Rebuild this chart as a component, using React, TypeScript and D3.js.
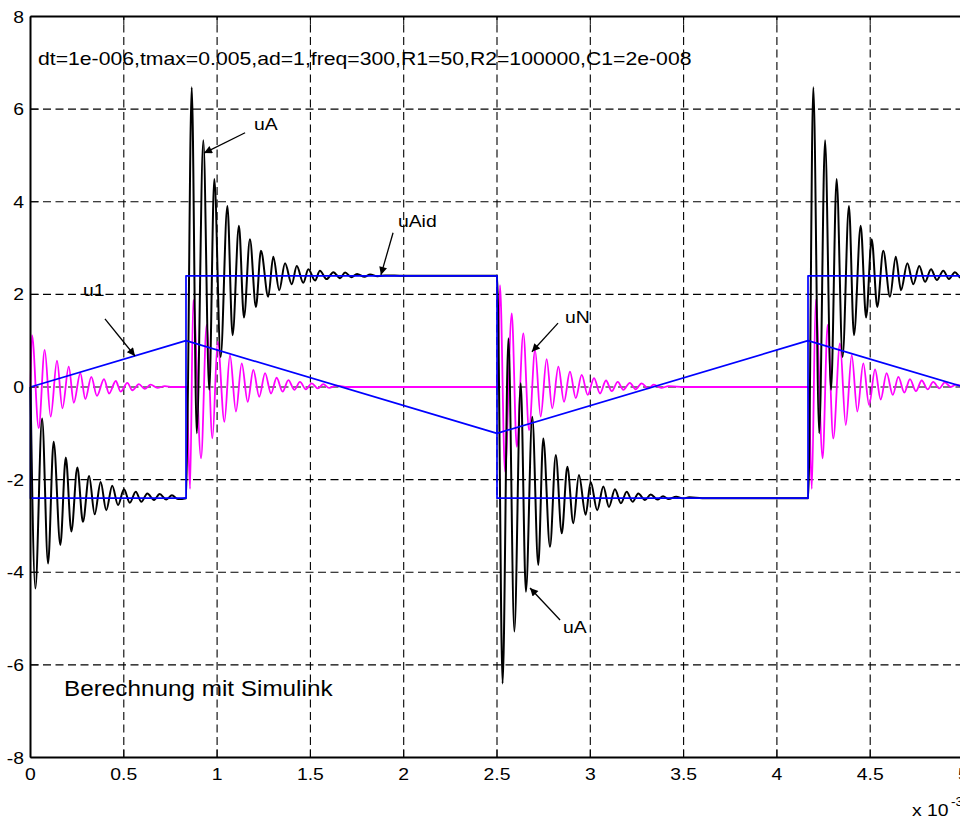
import React from 'react';
import * as d3 from 'd3';

type Pt = [number, number];

// time in ms (axis shows x 10^-3 s), voltage in V
const xTicks = [0, 0.5, 1, 1.5, 2, 2.5, 3, 3.5, 4, 4.5, 5];
const yTicks = [-8, -6, -4, -2, 0, 2, 4, 6, 8];

const uAid: Pt[] = [[0, 0], [0, -2.4], [0.8333, 2.4], [2.5, -2.4], [4.1667, 2.4], [5, 2.4]];
const u1: Pt[] = [[0, 0], [0.8333, 1], [2.5, -1], [4.1667, 1], [5, 0]];

// uA, peaks
const uA0: Pt[] = [[0, 0], [0.026, -4.35], [0.062, -0.68], [0.094, -3.81], [0.124, -1.18], [0.16, -3.41], [0.189, -1.52], [0.219, -3.12], [0.251, -1.74], [0.281, -2.91], [0.314, -1.92], [0.344, -2.75], [0.376, -2.05], [0.406, -2.66], [0.438, -2.13], [0.469, -2.55], [0.501, -2.21], [0.532, -2.5], [0.564, -2.26], [0.594, -2.48], [0.626, -2.3], [0.662, -2.44], [0.692, -2.31], [0.728, -2.43], [0.758, -2.34], [0.79, -2.42]];
const uA1: Pt[] = [[0.834, -2.4], [0.864, 6.47], [0.891, -1.0], [0.926, 5.33], [0.958, -0.06], [0.985, 4.49], [1.019, 0.65], [1.055, 3.91], [1.083, 1.12], [1.117, 3.48], [1.144, 1.5], [1.176, 3.19], [1.208, 1.73], [1.235, 2.94], [1.274, 1.95], [1.301, 2.81], [1.333, 2.09], [1.364, 2.67], [1.4, 2.22], [1.427, 2.61], [1.462, 2.25], [1.489, 2.54], [1.525, 2.3], [1.551, 2.51], [1.587, 2.33], [1.623, 2.48], [1.659, 2.35], [1.686, 2.47], [1.72, 2.37], [1.75, 2.44], [1.79, 2.38], [1.82, 2.43], [1.86, 2.39], [1.9, 2.41], [2.0, 2.4], [2.49, 2.4]];
const uA2: Pt[] = [[2.501, 2.4], [2.53, -6.4], [2.561, 1.05], [2.593, -5.28], [2.627, 0.08], [2.655, -4.42], [2.689, -0.64], [2.721, -3.84], [2.748, -1.11], [2.784, -3.45], [2.815, -1.47], [2.847, -3.16], [2.877, -1.72], [2.909, -2.94], [2.939, -1.9], [2.975, -2.76], [3.002, -2.05], [3.037, -2.66], [3.07, -2.15], [3.1, -2.59], [3.132, -2.21], [3.164, -2.51], [3.195, -2.26], [3.227, -2.48], [3.257, -2.3], [3.293, -2.44], [3.324, -2.32], [3.36, -2.43], [3.39, -2.36], [3.42, -2.42], [3.46, -2.37], [3.5, -2.41], [3.53, -2.38], [3.6, -2.4], [4.16, -2.4]];
const uA3: Pt[] = [[4.168, -2.4], [4.195, 6.47], [4.227, -1.0], [4.258, 5.33], [4.29, -0.06], [4.32, 4.49], [4.352, 0.65], [4.386, 3.91], [4.413, 1.12], [4.449, 3.48], [4.478, 1.5], [4.508, 3.19], [4.538, 1.73], [4.57, 2.94], [4.606, 1.95], [4.637, 2.81], [4.665, 2.09], [4.699, 2.67], [4.731, 2.22], [4.763, 2.61], [4.794, 2.27], [4.826, 2.54], [4.857, 2.31], [4.892, 2.51], [4.922, 2.33], [4.954, 2.48], [4.985, 2.36], [5, 2.4]];

// uN
const uN0: Pt[] = [[0, 0], [0.008, 1.12], [0.044, -0.89], [0.076, 0.8], [0.108, -0.64], [0.142, 0.57], [0.171, -0.46], [0.205, 0.44], [0.232, -0.34], [0.267, 0.3], [0.294, -0.26], [0.326, 0.22], [0.356, -0.19], [0.394, 0.17], [0.421, -0.14], [0.457, 0.13], [0.483, -0.1], [0.519, 0.09], [0.546, -0.07], [0.581, 0.06], [0.612, -0.04], [0.644, 0.05], [0.68, -0.02], [0.72, 0.02], [0.76, 0], [0.83, 0]];
const uN1: Pt[] = [[0.836, 0], [0.855, -2.2], [0.872, 1.88], [0.914, -1.54], [0.944, 1.34], [0.975, -1.11], [1.003, 0.98], [1.039, -0.75], [1.069, 0.69], [1.101, -0.53], [1.132, 0.51], [1.164, -0.32], [1.194, 0.37], [1.226, -0.21], [1.257, 0.3], [1.289, -0.14], [1.319, 0.2], [1.351, -0.1], [1.382, 0.15], [1.414, -0.06], [1.444, 0.11], [1.476, -0.05], [1.507, 0.08], [1.54, -0.03], [1.569, 0.06], [1.6, -0.02], [1.64, 0.03], [1.7, 0], [2.498, 0]];
const uN2: Pt[] = [[2.501, 0], [2.516, 2.2], [2.543, -1.83], [2.579, 1.59], [2.606, -1.29], [2.641, 1.16], [2.672, -0.93], [2.704, 0.8], [2.734, -0.64], [2.766, 0.6], [2.796, -0.46], [2.829, 0.44], [2.859, -0.32], [2.891, 0.33], [2.922, -0.24], [2.954, 0.26], [2.986, -0.17], [3.02, 0.19], [3.052, -0.14], [3.084, 0.14], [3.115, -0.09], [3.147, 0.11], [3.177, -0.06], [3.212, 0.09], [3.243, -0.05], [3.275, 0.08], [3.31, -0.03], [3.34, 0.05], [3.38, -0.02], [3.42, 0.02], [3.5, 0], [4.165, 0]];
const uN3: Pt[] = [[4.169, 0], [4.187, -2.2], [4.208, 1.88], [4.245, -1.54], [4.272, 1.34], [4.302, -1.11], [4.338, 0.94], [4.369, -0.82], [4.401, 0.69], [4.431, -0.53], [4.463, 0.51], [4.494, -0.39], [4.526, 0.38], [4.556, -0.27], [4.588, 0.3], [4.621, -0.17], [4.651, 0.22], [4.683, -0.12], [4.713, 0.17], [4.745, -0.09], [4.776, 0.14], [4.808, -0.05], [4.838, 0.11], [4.87, -0.03], [4.9, 0.1], [4.932, 0], [4.96, 0.05], [5, 0]];

const uA: Pt[] = [...uA0, ...uA1, ...uA2, ...uA3];
const uN: Pt[] = [...uN0, ...uN1, ...uN2, ...uN3];

// labels with arrows: text anchor, arrow tail, arrow tip (data units)
const notes: { label: string; at: Pt; from: Pt; to: Pt }[] = [
  { label: 'uA', at: [1.198, 5.55], from: [1.15, 5.49], to: [0.93, 5.05] },
  { label: 'uAid', at: [1.969, 3.46], from: [1.943, 3.33], to: [1.878, 2.42] },
  { label: 'u1', at: [0.281, 1.97], from: [0.399, 1.47], to: [0.56, 0.67] },
  { label: 'uN', at: [2.864, 1.38], from: [2.827, 1.38], to: [2.687, 0.76] },
  { label: 'uA', at: [2.854, -5.31], from: [2.838, -5.03], to: [2.677, -4.34] },
];

const paramText = 'dt=1e-006,tmax=0.005,ad=1,freq=300,R1=50,R2=100000,C1=2e-008';
const noteText = 'Berechnung mit Simulink';

const W = 960;
const H = 818;
const SX = 1.14; // the figure is a bit wider than tall, text looks stretched
const FONT = '"Liberation Sans", Arial, Helvetica, sans-serif';

const Txt = ({ x, y, size, anchor = 'start', children }: any) => (
  <text
    transform={`translate(${x},${y}) scale(${SX},1)`}
    fontSize={size}
    fontFamily={FONT}
    textAnchor={anchor}
    fill="#000"
  >
    {children}
  </text>
);

export default function App() {
  const x = d3.scaleLinear().domain([0, 5]).range([30.5, 963.5]);
  const y = d3.scaleLinear().domain([-8, 8]).range([757.5, 16.5]);

  const smooth = d3.line<Pt>().x((d) => x(d[0])).y((d) => y(d[1])).curve(d3.curveMonotoneX);
  const straight = d3.line<Pt>().x((d) => x(d[0])).y((d) => y(d[1]));
  const stepped = d3.line<Pt>().x((d) => x(d[0])).y((d) => y(d[1])).curve(d3.curveStepAfter);

  const [x0, x1] = x.range();
  const [y0, y1] = y.range();

  return (
    <svg width={W} height={H} style={{ position: 'absolute', left: 0, top: 0, display: 'block', background: '#fff' }}>
      <defs>
        <marker id="ah" viewBox="0 0 10 10" refX="10" refY="5" markerWidth="11" markerHeight="8" markerUnits="userSpaceOnUse" orient="auto">
          <path d="M0,0 L10,5 L0,10 z" fill="#000" />
        </marker>
      </defs>

      {/* grid */}
      <g stroke="#000" strokeWidth={1.1} strokeDasharray="8,4.5">
        {xTicks.slice(1).map((t) => (
          <line key={'gx' + t} x1={x(t)} x2={x(t)} y1={y0} y2={y1} />
        ))}
        {yTicks.slice(1, -1).map((t) => (
          <line key={'gy' + t} x1={x0} x2={x1} y1={y(t)} y2={y(t)} />
        ))}
      </g>

      {/* ticks */}
      <g stroke="#000" strokeWidth={1}>
        {xTicks.map((t) => (
          <g key={'tx' + t}>
            <line x1={x(t)} x2={x(t)} y1={y0} y2={y0 - 8} />
            <line x1={x(t)} x2={x(t)} y1={y1} y2={y1 + 8} />
          </g>
        ))}
        {yTicks.map((t) => (
          <line key={'ty' + t} x1={x0} x2={x0 + 8} y1={y(t)} y2={y(t)} />
        ))}
      </g>

      {/* signals */}
      <g fill="none" strokeLinejoin="round">
        <path d={smooth(uN) ?? ''} stroke="#ff00ff" strokeWidth={1.8} />
        <path d={smooth(uA) ?? ''} stroke="#000" strokeWidth={2} />
        <path d={straight(u1) ?? ''} stroke="#0000ff" strokeWidth={1.7} />
        <path d={stepped(uAid) ?? ''} stroke="#0000ff" strokeWidth={1.7} />
      </g>

      {/* axes box */}
      <g stroke="#000" strokeWidth={2} fill="none">
        <line x1={x0} x2={x0} y1={y0} y2={y1} />
        <line x1={x0} x2={x1} y1={y0} y2={y0} />
        <line x1={x0} x2={x1} y1={y1} y2={y1} />
        <line x1={x1} x2={x1} y1={y0} y2={y1} />
      </g>

      {/* tick labels */}
      {xTicks.map((t) => (
        <Txt key={'lx' + t} x={x(t)} y={780} size={17}>
          <tspan textAnchor="middle">{String(t)}</tspan>
        </Txt>
      ))}
      {yTicks.map((t) => (
        <Txt key={'ly' + t} x={24} y={y(t) + 6} size={17} anchor="end">
          {String(t)}
        </Txt>
      ))}
      <Txt x={912} y={816} size={17}>x 10</Txt>
      <Txt x={951} y={806} size={12}>-3</Txt>

      {/* annotations */}
      {notes.map((n, i) => (
        <g key={'n' + i}>
          <line
            x1={x(n.from[0])}
            y1={y(n.from[1])}
            x2={x(n.to[0])}
            y2={y(n.to[1])}
            stroke="#000"
            strokeWidth={1.3}
            markerEnd="url(#ah)"
          />
          <Txt x={x(n.at[0])} y={y(n.at[1])} size={17}>
            {n.label}
          </Txt>
        </g>
      ))}

      <Txt x={x(0.04)} y={y(6.95)} size={18.6}>{paramText}</Txt>
      <Txt x={x(0.18)} y={y(-6.67)} size={21.3}>{noteText}</Txt>
    </svg>
  );
}
